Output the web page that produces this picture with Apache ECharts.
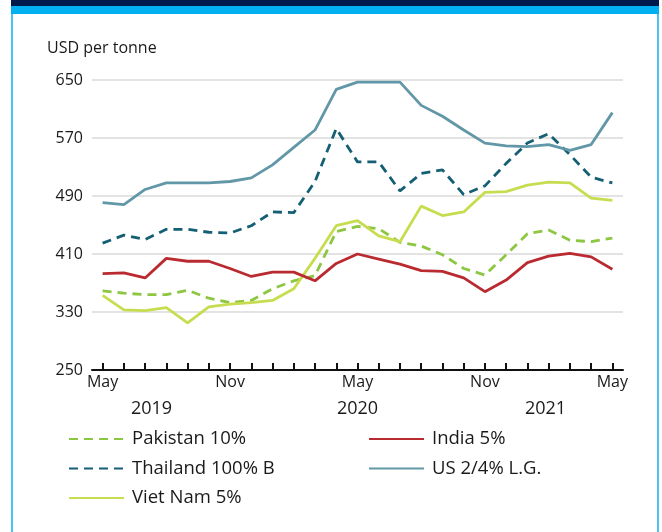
<!DOCTYPE html>
<html>
<head>
<meta charset="utf-8">
<script src="https://cdn.jsdelivr.net/npm/echarts@6/dist/echarts.min.js"></script>
<style>
  html, body { margin: 0; padding: 0; background: #ffffff; }
  #wrap { position: relative; width: 662px; height: 532px; overflow: hidden; }
  #frame { position: absolute; left: 11px; top: 0; width: 644px; height: 532px;
           border-left: 2px solid #4cc3f0; border-right: 2px solid #4cc3f0; }
  #navy { position: absolute; left: 11px; top: 0; width: 648px; height: 6px; background: #001a4d; }
  #cyan { position: absolute; left: 11px; top: 6px; width: 648px; height: 8px; background: #00b0f0; }
  #chart { position: absolute; left: 0; top: 0; width: 662px; height: 532px; }
</style>
</head>
<body>
<div id="wrap">
  <div id="frame"></div>
  <div id="navy"></div>
  <div id="cyan"></div>
  <div id="chart"></div>
</div>
<script>
// Monthly categories May 2019 - May 2021
const months = ['May','Jun','Jul','Aug','Sep','Oct','Nov','Dec','Jan','Feb','Mar','Apr',
                'May','Jun','Jul','Aug','Sep','Oct','Nov','Dec','Jan','Feb','Mar','Apr','May'];
const yTicks = [250, 330, 410, 490, 570, 650];
const yearLabels = ['2019', '2020', '2021'];
const yearPositions = [2.3, 12, 20.85];

const pakistan = [359, 356, 354, 354, 360, 349, 343, 346, 362, 373, 380, 441, 448, 445, 426, 421, 409, 390, 381, 409, 438, 443, 429, 427, 432];
const thailand = [425, 436, 430, 444, 444, 440, 439, 449, 468, 467, 510, 583, 537, 537, 497, 521, 526, 492, 504, 535, 563, 576, 547, 516, 508];
const vietnam  = [353, 333, 332, 336, 315, 337, 341, 343, 346, 362, 404, 449, 456, 435, 427, 476, 463, 468, 495, 496, 505, 509, 508, 487, 484];
const india    = [383, 384, 377, 404, 400, 400, 390, 379, 385, 385, 373, 397, 410, 403, 396, 387, 386, 377, 358, 374, 398, 407, 411, 406, 389];
const us       = [481, 478, 499, 508, 508, 508, 510, 515, 533, 557, 581, 637, 647, 647, 647, 615, 600, 581, 563, 559, 558, 561, 553, 561, 605];

const FONT = 'Open Sans';
const chart = echarts.init(document.getElementById('chart'));

function line(name, data, color, dashed) {
  return {
    name, type: 'line', data, symbol: 'none', showSymbol: false,
    lineStyle: { color, width: 2.8, type: dashed ? [9, 6] : 'solid' },
    itemStyle: { color },
    emphasis: { disabled: true },
    animation: false
  };
}

const legendCommon = {
  orient: 'vertical', itemWidth: 55, itemHeight: 14, itemGap: 9.5,
  selectedMode: false,
  itemStyle: { opacity: 0 },
  textStyle: { fontFamily: FONT, fontSize: 18.5, color: '#1a1a1a', padding: [0, 0, 0, 3], lineHeight: 20 }
};

chart.setOption({
  animation: false,
  title: { text: 'USD per tonne', left: 42, top: 35,
    textStyle: { fontFamily: FONT, fontSize: 16, fontWeight: 'normal', color: '#1a1a1a' } },
  grid: { left: 92, right: 39, top: 80, bottom: 162 },
  legend: [
    Object.assign({}, legendCommon, { left: 63, top: 424, data: ['Pakistan 10%', 'Thailand 100% B', 'Viet Nam 5%'] }),
    Object.assign({}, legendCommon, { left: 363, top: 424, data: ['India 5%', 'US 2/4% L.G.'] })
  ],
  xAxis: [
    {
      type: 'category', data: months, boundaryGap: true,
      axisLine: { lineStyle: { color: '#111', width: 2 } },
      axisTick: { show: true, inside: true, alignWithLabel: true, interval: 0, length: 7, lineStyle: { color: '#111', width: 2 } },
      axisLabel: { interval: (i) => i % 6 === 0, fontFamily: FONT, fontSize: 16, color: '#1a1a1a', margin: 4 },
      splitLine: { show: false }
    },
    {
      type: 'value', position: 'bottom', offset: 26, min: -0.5, max: 24.5,
      axisLine: { show: false }, axisTick: { show: false }, splitLine: { show: false },
      axisLabel: {
        customValues: yearPositions,
        formatter: (v) => { const k = yearPositions.indexOf(v); return k >= 0 ? yearLabels[k] : ''; },
        fontFamily: FONT, fontSize: 18, color: '#1a1a1a', margin: 4
      }
    }
  ],
  yAxis: {
    type: 'value', min: yTicks[0], max: yTicks[yTicks.length - 1], interval: 80,
    axisLine: { show: false }, axisTick: { show: false },
    axisLabel: { fontFamily: FONT, fontSize: 16, color: '#1a1a1a', margin: 9 },
    splitLine: { lineStyle: { color: '#e3e3e3', width: 2 } }
  },
  series: [
    line('Pakistan 10%', pakistan, '#8dc641', true),
    line('Thailand 100% B', thailand, '#155f75', true),
    line('Viet Nam 5%', vietnam, '#c8dc50', false),
    line('India 5%', india, '#b92b30', false),
    line('US 2/4% L.G.', us, '#6197a6', false)
  ]
});
</script>
</body>
</html>
